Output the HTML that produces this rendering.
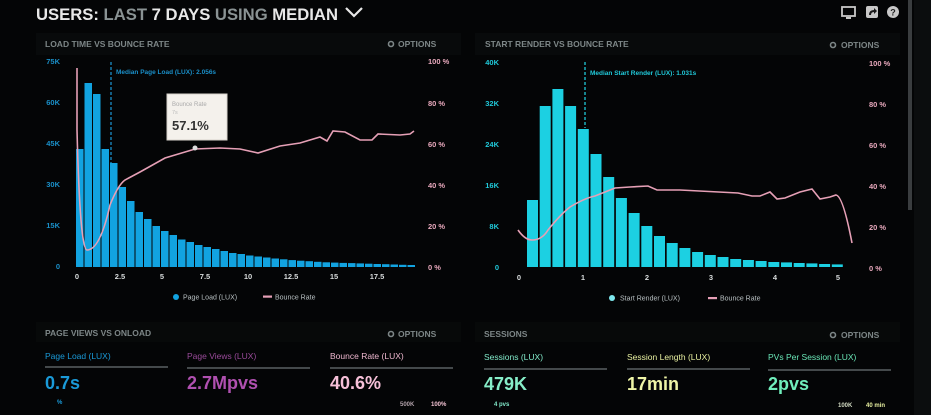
<!DOCTYPE html>
<html><head><meta charset="utf-8"><style>
html,body{margin:0;padding:0;background:#040506;width:931px;height:415px;overflow:hidden}
svg{display:block;font-family:"Liberation Sans",sans-serif}
</style></head><body>
<svg width="931" height="415" viewBox="0 0 931 415">
<rect width="931" height="415" fill="#040506"/>
<rect x="36" y="33" width="425" height="22" fill="#080a0b"/>
<rect x="475" y="33" width="425" height="22" fill="#080a0b"/>
<rect x="36" y="322" width="425" height="20" fill="#070909"/>
<rect x="475" y="322" width="425" height="20" fill="#070909"/>
<rect x="908" y="0" width="4" height="210" fill="#3a3d3f"/>
<rect x="914" y="0" width="17" height="415" fill="#0b0d0e"/>
<!-- header -->
<text x="36" y="20" font-size="17" font-weight="bold" textLength="302" lengthAdjust="spacingAndGlyphs"><tspan fill="#e8e8e8">USERS:</tspan><tspan fill="#8a9394"> LAST </tspan><tspan fill="#e8e8e8">7 DAYS </tspan><tspan fill="#8a9394">USING </tspan><tspan fill="#e8e8e8">MEDIAN</tspan></text>
<polyline points="346,8 354,16 362,8" fill="none" stroke="#e8e8e8" stroke-width="2.2"/>
<rect x="842" y="7" width="13" height="9" fill="none" stroke="#c8c8c8" stroke-width="1.8"/><rect x="846" y="17" width="5" height="2" fill="#c8c8c8"/>
<rect x="866" y="6" width="12" height="12" rx="2" fill="#c8c8c8"/><path d="M869 15 Q869 10 874 10 L874 8 L877 11 L874 14 L874 12 Q871 12 871 15Z" fill="#1a1a1a"/>
<circle cx="893" cy="12" r="6" fill="#c8c8c8"/><text x="893" y="15.5" font-size="9" font-weight="bold" fill="#222" text-anchor="middle">?</text>
<!-- panel titles -->
<g font-size="8.5" font-weight="bold" fill="#7d8687">
<text x="45" y="47">LOAD TIME VS BOUNCE RATE</text>
<text x="398" y="47">OPTIONS</text>
<text x="485" y="47">START RENDER VS BOUNCE RATE</text>
<text x="841" y="48">OPTIONS</text>
<text x="45" y="336">PAGE VIEWS VS ONLOAD</text>
<text x="398" y="337">OPTIONS</text>
<text x="484" y="337">SESSIONS</text>
<text x="841" y="338">OPTIONS</text>
</g>
<g fill="none" stroke="#7d8687" stroke-width="1.6"><circle cx="391" cy="44" r="2.5"/><circle cx="833" cy="45" r="2.5"/><circle cx="391" cy="334" r="2.5"/><circle cx="833" cy="335" r="2.5"/></g>
<!-- left chart axes labels -->
<g font-size="7.5" font-weight="bold" fill="#1a8fc8" text-anchor="end">
<text x="60" y="64">75K</text><text x="60" y="105">60K</text><text x="60" y="146">45K</text><text x="60" y="187">30K</text><text x="60" y="228">15K</text><text x="60" y="269">0</text></g>
<g font-size="7.5" font-weight="bold" fill="#e8a8bc">
<text x="428" y="64">100 %</text><text x="428" y="106">80 %</text><text x="428" y="147">60 %</text><text x="428" y="188">40 %</text><text x="428" y="229">20 %</text><text x="428" y="270">0 %</text></g>
<g font-size="7.5" font-weight="bold" fill="#d8dcdc" text-anchor="middle">
<text x="77" y="279">0</text><text x="120" y="279">2.5</text><text x="162" y="279">5</text><text x="205" y="279">7.5</text><text x="248" y="279">10</text><text x="291" y="279">12.5</text><text x="334" y="279">15</text><text x="377" y="279">17.5</text></g>
<g fill="#12a3e0">
<rect x="76" y="149" width="7.5" height="118"/><rect x="84.5" y="83" width="7.5" height="184"/><rect x="93" y="94" width="7.5" height="173"/><rect x="101.5" y="149" width="7.5" height="118"/><rect x="110" y="163" width="7.5" height="104"/><rect x="118.5" y="187" width="7.5" height="80"/><rect x="127" y="201" width="7.5" height="66"/><rect x="135.5" y="212" width="7.5" height="55"/><rect x="144" y="219" width="7.5" height="48"/><rect x="152.5" y="226" width="7.5" height="41"/><rect x="161" y="231" width="7.5" height="36"/><rect x="169.5" y="235" width="7.5" height="32"/><rect x="178" y="239.5" width="7.5" height="27.5"/><rect x="186.5" y="242" width="7.5" height="25"/><rect x="195" y="245" width="7.5" height="22"/><rect x="203.5" y="247" width="7.5" height="20"/><rect x="212" y="249" width="7.5" height="18"/><rect x="220.5" y="251" width="7.5" height="16"/><rect x="229" y="253" width="7.5" height="14"/><rect x="237.5" y="254" width="7.5" height="13"/><rect x="246" y="255.5" width="7.5" height="11.5"/><rect x="254.5" y="256.5" width="7.5" height="10.5"/><rect x="263" y="257.5" width="7.5" height="9.5"/><rect x="271.5" y="258.5" width="7.5" height="8.5"/><rect x="280" y="259.3" width="7.5" height="7.7"/><rect x="288.5" y="260.1" width="7.5" height="6.9"/><rect x="297" y="260.7" width="7.5" height="6.3"/><rect x="305.5" y="261.2" width="7.5" height="5.8"/><rect x="314" y="261.8" width="7.5" height="5.2"/><rect x="322.5" y="262.3" width="7.5" height="4.7"/><rect x="331" y="262.6" width="7.5" height="4.4"/><rect x="339.5" y="262.9" width="7.5" height="4.1"/><rect x="348" y="263.1" width="7.5" height="3.9"/><rect x="356.5" y="263.4" width="7.5" height="3.6"/><rect x="365" y="263.7" width="7.5" height="3.3"/><rect x="373.5" y="264" width="7.5" height="3"/><rect x="382" y="264.2" width="7.5" height="2.8"/><rect x="390.5" y="264.5" width="7.5" height="2.5"/><rect x="399" y="264.8" width="7.5" height="2.2"/><rect x="407.5" y="265" width="7.5" height="2"/>
</g>
<line x1="111" y1="62" x2="111" y2="163" stroke="#1a8fc8" stroke-width="1.3" stroke-dasharray="3,2"/>
<text x="116" y="74" font-size="6.5" font-weight="bold" fill="#1a8fc8">Median Page Load (LUX): 2.056s</text>
<path d="M77,68 L77,130 Q80,250 87,250 Q100,250 110,205 Q118,185 125,180 L140,172 L165,158 L195,149 L220,148 L240,149 L258,153 L280,146 L300,143 L320,137 L327,141 L333,131 L345,132 L360,140 L372,140 L378,134 L400,135 L410,134 L414,131" fill="none" stroke="#e6a0b6" stroke-width="1.6"/>
<rect x="167" y="94" width="60" height="46" fill="#f4f1ec" stroke="#d8d4cc"/>
<text x="172" y="106" font-size="6" fill="#aaa">Bounce Rate</text>
<text x="172" y="114" font-size="5.5" fill="#bbb">7s</text>
<text x="172" y="130" font-size="13" font-weight="bold" fill="#333">57.1%</text>
<circle cx="195" cy="148" r="2.5" fill="#ddd"/>
<circle cx="176" cy="297" r="3" fill="#12a3e0"/>
<text x="183" y="299.5" font-size="7" fill="#b8c0c2">Page Load (LUX)</text>
<rect x="263" y="295.5" width="9" height="2.2" fill="#e6a0b6"/>
<text x="275" y="299.5" font-size="7" fill="#b8c0c2">Bounce Rate</text>
<!-- right chart -->
<g font-size="7.5" font-weight="bold" fill="#20c8d8" text-anchor="end">
<text x="499" y="65">40K</text><text x="499" y="106">32K</text><text x="499" y="147">24K</text><text x="499" y="188">16K</text><text x="499" y="229">8K</text><text x="499" y="270">0</text></g>
<g font-size="7.5" font-weight="bold" fill="#e8a8bc">
<text x="869" y="66">100 %</text><text x="869" y="107">80 %</text><text x="869" y="148">60 %</text><text x="869" y="189">40 %</text><text x="869" y="230">20 %</text><text x="869" y="271">0 %</text></g>
<g font-size="7.5" font-weight="bold" fill="#d8dcdc" text-anchor="middle">
<text x="519" y="280">0</text><text x="583" y="280">1</text><text x="647" y="280">2</text><text x="711" y="280">3</text><text x="775" y="280">4</text><text x="838" y="280">5</text></g>
<g fill="#1cd0e2">
<rect x="527" y="200" width="11" height="67"/><rect x="539.7" y="106" width="11" height="161"/><rect x="552.4" y="89" width="11" height="178"/><rect x="565.1" y="106" width="11" height="161"/><rect x="577.8" y="129" width="11" height="138"/><rect x="590.5" y="154" width="11" height="113"/><rect x="603.2" y="177" width="11" height="90"/><rect x="615.9" y="198" width="11" height="69"/><rect x="628.6" y="213" width="11" height="54"/><rect x="641.3" y="226" width="11" height="41"/><rect x="654" y="236" width="11" height="31"/><rect x="666.7" y="243" width="11" height="24"/><rect x="679.4" y="248" width="11" height="19"/><rect x="692.1" y="252" width="11" height="15"/><rect x="704.8" y="255" width="11" height="12"/><rect x="717.5" y="257" width="11" height="10"/><rect x="730.2" y="259" width="11" height="8"/><rect x="742.9" y="260" width="11" height="7"/><rect x="755.6" y="261" width="11" height="6"/><rect x="768.3" y="262" width="11" height="5"/><rect x="781" y="262.4" width="11" height="4.6"/><rect x="793.7" y="263" width="11" height="4"/><rect x="806.4" y="263.4" width="11" height="3.6"/><rect x="819.1" y="264" width="11" height="3"/><rect x="831.8" y="264.4" width="11" height="2.6"/>
</g>
<line x1="585" y1="62" x2="585" y2="128" stroke="#20c8d8" stroke-width="1.3" stroke-dasharray="3,2"/>
<text x="590" y="75" font-size="6.5" font-weight="bold" fill="#20c8d8">Median Start Render (LUX): 1.031s</text>
<path d="M518,230 Q525,240 532,240 Q542,240 548,230 Q560,215 570,207 Q585,198 595,196 L615,188 L630,187 L648,186 L657,190 L680,190 L738,193 L752,196 L760,196 L770,192 L777,199 L785,198 L800,192 L812,189 L820,199 L830,197 L836,195 Q843,196 852,243" fill="none" stroke="#e6a0b6" stroke-width="1.6"/>
<circle cx="612" cy="298" r="3" fill="#7ee8ee"/>
<text x="620" y="300.5" font-size="7" fill="#b8c0c2">Start Render (LUX)</text>
<rect x="708" y="297" width="9" height="2.2" fill="#e6a0b6"/>
<text x="720" y="300.5" font-size="7" fill="#b8c0c2">Bounce Rate</text>
<!-- bottom metrics -->
<g font-size="8.5">
<text x="45" y="359" fill="#1a9ad8">Page Load (LUX)</text>
<text x="187" y="359" fill="#9a4a9a">Page Views (LUX)</text>
<text x="330" y="359" fill="#f0b8d0">Bounce Rate (LUX)</text>
<text x="484" y="360" fill="#80e8c8">Sessions (LUX)</text>
<text x="627" y="360" fill="#e8f0a0">Session Length (LUX)</text>
<text x="768" y="360" fill="#6ae8b8">PVs Per Session (LUX)</text>
</g>
<g stroke="#5a6062" stroke-width="1.5">
<line x1="45" y1="367" x2="168" y2="367"/><line x1="187" y1="368" x2="310" y2="368"/><line x1="330" y1="368" x2="453" y2="368"/>
<line x1="484" y1="369" x2="607" y2="369"/><line x1="627" y1="369" x2="750" y2="369"/><line x1="768" y1="370" x2="891" y2="370"/>
</g>
<g font-size="18" font-weight="bold">
<text x="45" y="389" fill="#1a9ad8">0.7s</text>
<text x="187" y="389" fill="#b050b0">2.7Mpvs</text>
<text x="330" y="389" fill="#f6c0d8">40.6%</text>
<text x="484" y="390" fill="#86eec8">479K</text>
<text x="627" y="390" fill="#eef4a6">17min</text>
<text x="768" y="390" fill="#70eebc">2pvs</text>
</g>
<g font-size="6" font-weight="bold">
<text x="57" y="404" fill="#1a9ad8">%</text>
<text x="400" y="406" fill="#b0a0a8">500K</text><text x="431" y="406" fill="#f0c0d0">100%</text>
<text x="494" y="406" fill="#80e8c8">4 pvs</text>
<text x="838" y="407" fill="#d0d8c0">100K</text><text x="866" y="407" fill="#e8f0a0">40 min</text>
</g>
</svg>
</body></html>
